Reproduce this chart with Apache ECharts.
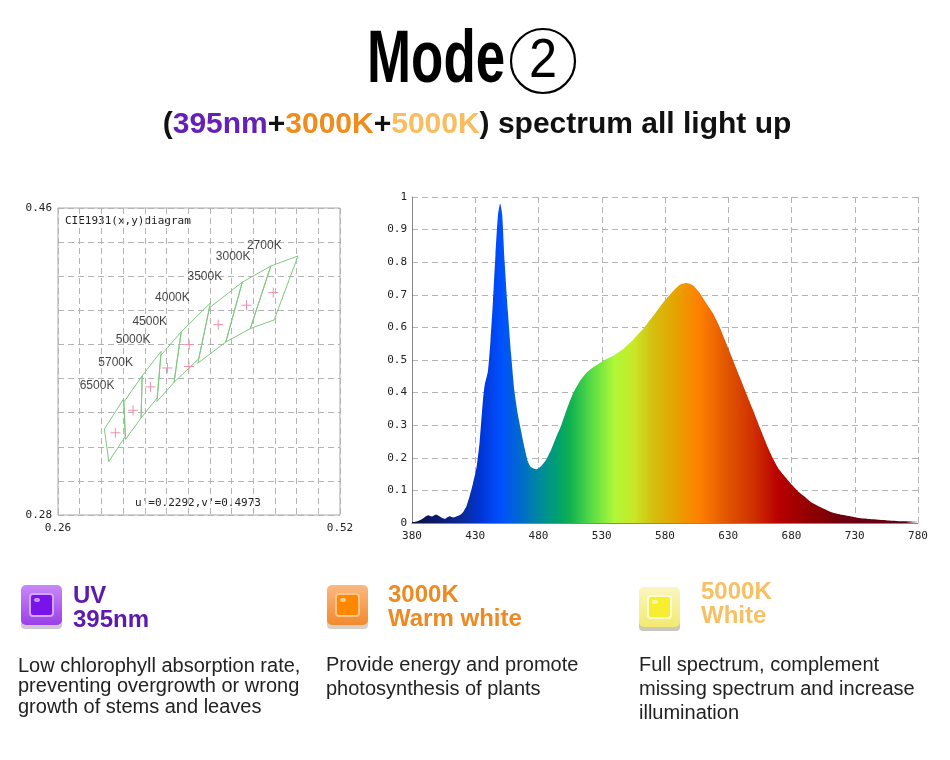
<!DOCTYPE html>
<html>
<head>
<meta charset="utf-8">
<script src="https://cdn.jsdelivr.net/npm/echarts@6/dist/echarts.min.js"></script>
<style>html,body{margin:0;padding:0;background:#fff}#c{width:950px;height:760px}</style>
</head>
<body>
<div id="c"></div>
<script>
// ---- CIE 1931 diagram data ----
const cctNames = ['2700K','3000K','3500K','4000K','4500K','5000K','5700K','6500K'];
const quadX = [
  [0.4813,0.4562,0.4373,0.4593],
  [0.4562,0.4299,0.4147,0.4373],
  [0.4299,0.3996,0.3889,0.4147],
  [0.4006,0.3736,0.3670,0.3898],
  [0.3736,0.3548,0.3512,0.3670],
  [0.3551,0.3376,0.3366,0.3515],
  [0.3376,0.3207,0.3222,0.3366],
  [0.3205,0.3028,0.3068,0.3221]
];
const quadY = [
  [0.4319,0.4260,0.3893,0.3944],
  [0.4260,0.4165,0.3814,0.3893],
  [0.4165,0.4015,0.3690,0.3814],
  [0.4044,0.3874,0.3578,0.3716],
  [0.3874,0.3736,0.3465,0.3578],
  [0.3760,0.3616,0.3369,0.3487],
  [0.3616,0.3462,0.3243,0.3369],
  [0.3481,0.3304,0.3113,0.3261]
];
const centerX = [0.4585,0.4338,0.4077,0.3809,0.3609,0.3452,0.3292,0.3129];
const centerY = [0.4104,0.4030,0.3916,0.3799,0.3662,0.3551,0.3414,0.3282];
const labelX = [0.4502,0.4215,0.3954,0.3655,0.3446,0.3292,0.3132,0.2960];
const labelY = [0.4381,0.4313,0.4196,0.4073,0.3932,0.3829,0.3694,0.3557];
const measuredPoint = [0.3807, 0.3671];
const cieXTicks = [0.26, 0.52];
const cieYTicks = [0.28, 0.46];

// ---- Spectrum data ----
const wavelengths = [380,382,385,388,391,393,395.5,397,399,401,403,406,408,410,412.5,414.5,416.5,418.5,420.5,423,425.5,428,431,433.5,436,437.5,440,442,444,446,448,449.7,451.3,453.2,455.8,458.4,461,463.7,466.3,469,471.6,474.2,478.2,482.2,486,490,494,498,502,507,512.5,517.7,523,531,539,547,555,562.5,570.4,578.3,586.2,591.5,596.7,602,607.3,612.5,617.8,623,628.3,633.6,638.8,644.1,649.4,654.6,659.9,665.2,670.4,675.7,681,686,691.5,696.7,703,711,720,731,742,756,770,780];
const intensity = [0.004,0.003,0.006,0.012,0.021,0.024,0.020,0.022,0.026,0.022,0.017,0.013,0.018,0.021,0.017,0.019,0.022,0.026,0.034,0.051,0.082,0.118,0.170,0.250,0.373,0.424,0.465,0.557,0.680,0.823,0.946,0.979,0.946,0.803,0.649,0.516,0.404,0.332,0.281,0.230,0.189,0.171,0.165,0.175,0.194,0.225,0.264,0.300,0.345,0.395,0.434,0.460,0.477,0.497,0.513,0.534,0.563,0.594,0.634,0.675,0.710,0.730,0.736,0.729,0.706,0.675,0.644,0.603,0.552,0.501,0.450,0.399,0.348,0.296,0.245,0.199,0.163,0.138,0.114,0.094,0.077,0.061,0.048,0.034,0.025,0.017,0.012,0.008,0.005,0.003];
const spectrumXTicks = [380,430,480,530,580,630,680,730,780];

const spectrumColors = [
  [380,'#0b0f4a'],[400,'#0c1a6a'],[420,'#0a2a9a'],[435,'#0036d8'],[450,'#0050ff'],
  [465,'#0068d0'],[480,'#0088a0'],[495,'#00a070'],[505,'#10b050'],[520,'#50d848'],
  [540,'#b0f838'],[555,'#c8e828'],[570,'#d4c010'],[590,'#e8a000'],[607,'#ff8000'],
  [630,'#e05400'],[650,'#d03000'],[670,'#b80000'],[695,'#900000'],[720,'#700010'],[780,'#5a0010']
];

const chart = echarts.init(document.getElementById('c'), null, {renderer:'canvas'});
const mono = 'DejaVu Sans Mono';
const gridDash = {color:'#b4b4b4', type:[6,4], width:1};

const quadData = quadX.map((xs,i)=>[...xs.flatMap((x,j)=>[x, quadY[i][j]])]);
const crossData = centerX.map((x,i)=>[x, centerY[i]]).concat([measuredPoint]);
const labelData = labelX.map((x,i)=>[x, labelY[i], cctNames[i]]);
const specData = wavelengths.map((w,i)=>[w, intensity[i]]);

function chip(x, y, bodyTop, bodyBot, inner, innerStroke, base){
  return {type:'group', children:[
    {type:'rect', shape:{x:x, y:y+3, width:41, height:41, r:4}, style:{fill:base}},
    {type:'rect', shape:{x:x, y:y, width:41, height:40, r:5}, style:{fill:new echarts.graphic.LinearGradient(0,0,0,1,[{offset:0,color:bodyTop},{offset:1,color:bodyBot}])}},
    {type:'rect', shape:{x:x+9, y:y+9, width:23, height:22, r:3}, style:{fill:inner, stroke:innerStroke, lineWidth:2}},
    {type:'rect', shape:{x:x+13, y:y+13, width:6, height:4, r:2}, style:{fill:'rgba(255,255,255,0.55)'}}
  ]};
}

const option = {
  backgroundColor:'#fff',
  animation:false,
  grid:[
    {left:58, top:208, width:282, height:307, show:true, borderColor:'#a8a8a8', borderWidth:1},
    {left:412, top:197, width:506, height:326}
  ],
  xAxis:[
    {gridIndex:0, type:'value', min:0.26, max:0.52, interval:0.02,
     axisLine:{show:false}, axisTick:{show:false}, splitLine:{show:true, lineStyle:gridDash},
     axisLabel:{fontFamily:mono, fontSize:11, color:'#222', margin:8,
       formatter:v=>cieXTicks.some(t=>Math.abs(t-v)<1e-6)?v.toFixed(2):''}},
    {gridIndex:1, type:'value', min:380, max:780, interval:50,
     axisLine:{show:true, lineStyle:{color:'#888'}}, axisTick:{show:false},
     splitLine:{show:true, lineStyle:gridDash},
     axisLabel:{fontFamily:mono, fontSize:11, color:'#222', margin:8,
       formatter:v=>spectrumXTicks.includes(v)?String(v):''}}
  ],
  yAxis:[
    {gridIndex:0, type:'value', min:0.28, max:0.46, interval:0.02,
     axisLine:{show:false}, axisTick:{show:false}, splitLine:{show:true, lineStyle:gridDash},
     axisLabel:{fontFamily:mono, fontSize:11, color:'#222', margin:6,
       formatter:v=>cieYTicks.some(t=>Math.abs(t-v)<1e-6)?v.toFixed(2):''}},
    {gridIndex:1, type:'value', min:0, max:1, interval:0.1,
     axisLine:{show:true, lineStyle:{color:'#888'}}, axisTick:{show:false},
     splitLine:{show:true, lineStyle:gridDash},
     axisLabel:{fontFamily:mono, fontSize:11, color:'#222', margin:5,
       formatter:v=>(v===0||v===1)?String(v):v.toFixed(1)}}
  ],
  series:[
    {type:'custom', xAxisIndex:0, yAxisIndex:0, data:quadData, silent:true,
     renderItem:function(params, api){
       const pts=[];
       for(let j=0;j<4;j++){ pts.push(api.coord([api.value(2*j), api.value(2*j+1)])); }
       return {type:'polygon', shape:{points:pts}, style:{fill:'none', stroke:'#80c880', lineWidth:1}};
     }},
    {type:'custom', xAxisIndex:0, yAxisIndex:0, data:crossData, silent:true,
     renderItem:function(params, api){
       const p = api.coord([api.value(0), api.value(1)]);
       const s = 5;
       return {type:'group', children:[
         {type:'line', shape:{x1:p[0]-s, y1:p[1], x2:p[0]+s, y2:p[1]}, style:{stroke:'#f090a8', lineWidth:1}},
         {type:'line', shape:{x1:p[0], y1:p[1]-s, x2:p[0], y2:p[1]+s}, style:{stroke:'#f090a8', lineWidth:1}}
       ]};
     }},
    {type:'scatter', xAxisIndex:0, yAxisIndex:0, data:labelData, symbolSize:0, silent:true,
     label:{show:true, position:'inside', formatter:p=>p.data[2], color:'#111', fontSize:12, fontFamily:'Liberation Sans'}},
    {type:'line', xAxisIndex:1, yAxisIndex:1, data:specData, smooth:0.2, showSymbol:false, silent:true,
     lineStyle:{width:0},
     areaStyle:{opacity:1, color:new echarts.graphic.LinearGradient(0,0,1,0,
       spectrumColors.map(c=>({offset:(c[0]-380)/400, color:c[1]})))}}
  ],
  graphic:[
    {type:'text', x:367, y:62, scaleX:0.715, scaleY:1, style:{text:'Mode', font:'bold 74px "Liberation Sans"', fill:'#000', verticalAlign:'middle', align:'left'}},
    {type:'circle', shape:{cx:543, cy:61, r:32}, style:{fill:'none', stroke:'#000', lineWidth:2.2}},
    {type:'text', x:543, y:62, scaleX:0.9, style:{text:'2', font:'56px "Liberation Sans"', fill:'#000', align:'center', verticalAlign:'middle'}},
    {type:'text', x:477, y:125, style:{
      text:'{k|(}{p|395nm}{k|+}{o|3000K}{k|+}{y|5000K}{k|) spectrum all light up}',
      align:'center', verticalAlign:'middle',
      rich:{
        k:{font:'bold 30px "Liberation Sans"', fill:'#111'},
        p:{font:'bold 30px "Liberation Sans"', fill:'#6420b8'},
        o:{font:'bold 30px "Liberation Sans"', fill:'#ef8c1e'},
        y:{font:'bold 30px "Liberation Sans"', fill:'#f7bd5e'}
      }}},
    {type:'text', x:65, y:221, style:{text:'CIE1931(x,y)diagram', font:'11px "DejaVu Sans Mono"', fill:'#222', verticalAlign:'middle'}},
    {type:'text', x:198, y:503, style:{text:"u'=0.2292,v'=0.4973", font:'11px "DejaVu Sans Mono"', fill:'#222', align:'center', verticalAlign:'middle'}},
    chip(21,585,'#c888f8','#9a40e8','#7a12ea','#d2a6ff','#cfc6d8'),
    chip(327,585,'#fbb880','#f28a2c','#ff8800','#ffc488','#d8cfc8'),
    chip(639,587,'#faf6c0','#f2ea70','#f8ee30','#fffbd0','#c8c8bc'),
    {type:'text', x:73, y:596, style:{text:'UV', font:'bold 24px "Liberation Sans"', fill:'#5c1aae', verticalAlign:'middle'}},
    {type:'text', x:73, y:620, style:{text:'395nm', font:'bold 24px "Liberation Sans"', fill:'#5c1aae', verticalAlign:'middle'}},
    {type:'text', x:388, y:595, style:{text:'3000K', font:'bold 24px "Liberation Sans"', fill:'#ee8a22', verticalAlign:'middle'}},
    {type:'text', x:388, y:619, style:{text:'Warm white', font:'bold 24px "Liberation Sans"', fill:'#ee8a22', verticalAlign:'middle'}},
    {type:'text', x:701, y:592, style:{text:'5000K', font:'bold 24px "Liberation Sans"', fill:'#f7c064', verticalAlign:'middle'}},
    {type:'text', x:701, y:616, style:{text:'White', font:'bold 24px "Liberation Sans"', fill:'#f7c064', verticalAlign:'middle'}},
    {type:'text', x:18, y:656, style:{text:'Low chlorophyll absorption rate,\npreventing overgrowth or wrong\ngrowth of stems and leaves', font:'20px "Liberation Sans"', fill:'#222', lineHeight:20.5, verticalAlign:'top'}},
    {type:'text', x:326, y:653, style:{text:'Provide energy and promote\nphotosynthesis of plants', font:'20px "Liberation Sans"', fill:'#222', lineHeight:24, verticalAlign:'top'}},
    {type:'text', x:639, y:653, style:{text:'Full spectrum, complement\nmissing spectrum and increase\nillumination', font:'20px "Liberation Sans"', fill:'#222', lineHeight:24, verticalAlign:'top'}}
  ]
};
chart.setOption(option);
</script>
</body>
</html>
